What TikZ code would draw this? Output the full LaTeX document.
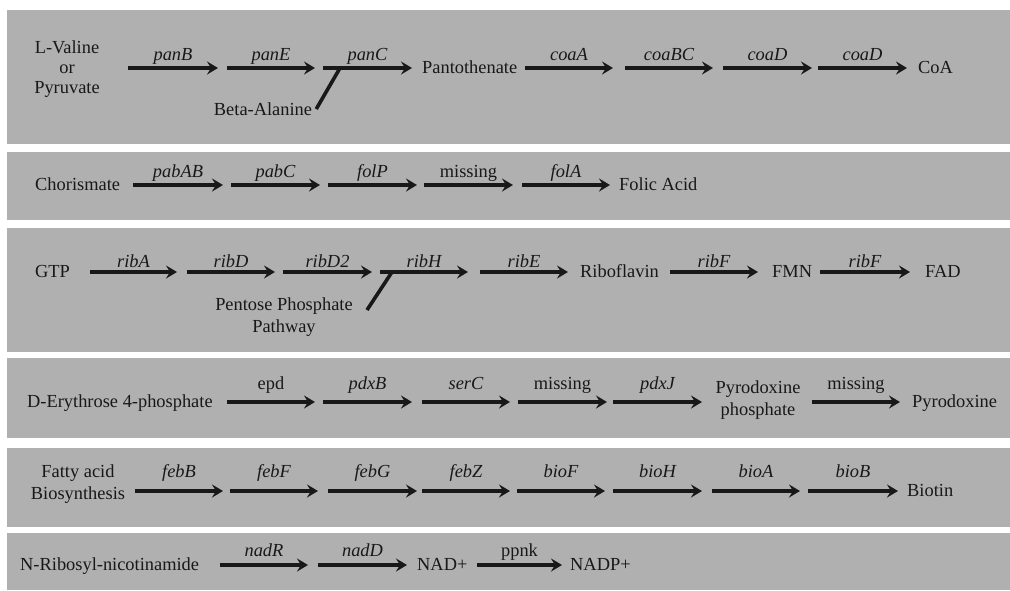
\documentclass[tikz,border=0pt]{standalone}
\usepackage{fontspec}
\setmainfont{Liberation Serif}
\usetikzlibrary{arrows.meta}
\definecolor{panelgray}{RGB}{176,176,176}
\definecolor{inkgray}{RGB}{24,24,24}
\newcommand{\pwfont}{\fontsize{18.4}{22}\selectfont}
\tikzset{
  panel/.style={fill=panelgray, draw=none},
  rxn/.style={line width=3.6pt, color=inkgray, -{Stealth[length=11pt,width=13pt,inset=4pt]}},
  branch/.style={line width=3.6pt, color=inkgray},
  cmp/.style={inner sep=0pt, anchor=base west, text=inkgray, font=\pwfont},
  multi/.style={inner sep=0pt, align=center, text=inkgray, font=\pwfont},
  gene/.style={midway, inner sep=0pt, anchor=base, yshift=#1, text=inkgray, font=\pwfont\itshape},
  gene/.default=8pt,
  enz/.style={midway, inner sep=0pt, anchor=base, yshift=#1, text=inkgray, font=\pwfont},
  enz/.default=8pt
}
\begin{document}
\begin{tikzpicture}[x=1pt,y=-1pt]
        \fill[white] (0,0) rectangle (1010,590);
        \useasboundingbox (0,0) rectangle (1010,590);
        \fill[panel] (7,10) rectangle (1010,144);
        \fill[panel] (7,152) rectangle (1010,220);
        \fill[panel] (7,228) rectangle (1010,352);
        \fill[panel] (7,358) rectangle (1010,438);
        \fill[panel] (7,448) rectangle (1010,527);
        \fill[panel] (7,533) rectangle (1010,590);

        % CoA
        \draw node[multi, font=\fontsize{18.4}{20}\selectfont] (val) at (67,69) {L-Valine\\or\\Pyruvate};
        \draw node[cmp] (pant) at (422,73) {Pantothenate};
        \draw node[cmp] (coa) at (918,73) {CoA};
        \draw node[multi, inner sep=4pt] (bala) at (263,109) {Beta-Alanine};
        \coordinate (a1) at (128,68); \coordinate (a2) at (218,68);
        \coordinate (a3) at (227,68); \coordinate (a4) at (315,68);
        \coordinate (a5) at (323,68); \coordinate (a6) at (412,68);
        \coordinate (a7) at (525,68); \coordinate (a8) at (613,68);
        \coordinate (a9) at (625,68); \coordinate (a10) at (713,68);
        \coordinate (a11) at (723,68); \coordinate (a12) at (812,68);
        \coordinate (a13) at (818,68); \coordinate (a14) at (907,68);
        \coordinate (aj) at (340,68);
        \draw (a1) edge[rxn] node[gene] {panB} (a2);
        \draw (a3) edge[rxn] node[gene] {panE} (a4);
        \draw (a5) edge[rxn] node[gene] {panC} (a6);
        \draw (a7) edge[rxn] node[gene] {coaA} (a8);
        \draw (a9) edge[rxn] node[gene] {coaBC} (a10);
        \draw (a11) edge[rxn] node[gene] {coaD} (a12);
        \draw (a13) edge[rxn] node[gene] {coaD} (a14);
        \draw[branch] (aj) -- (bala.east);

        % folic acid
        \draw node[cmp] (chor) at (35,190) {Chorismate};
        \draw node[cmp] (fol) at (619,190) {Folic Acid};
        \coordinate (b1) at (133,185); \coordinate (b2) at (223,185);
        \coordinate (b3) at (231,185); \coordinate (b4) at (320,185);
        \coordinate (b5) at (328,185); \coordinate (b6) at (417,185);
        \coordinate (b7) at (424,185); \coordinate (b8) at (513,185);
        \coordinate (b9) at (522,185); \coordinate (b10) at (610,185);
        \draw (b1) edge[rxn] node[gene] {pabAB} (b2);
        \draw (b3) edge[rxn] node[gene] {pabC} (b4);
        \draw (b5) edge[rxn] node[gene] {folP} (b6);
        \draw (b7) edge[rxn] node[enz] {missing} (b8);
        \draw (b9) edge[rxn] node[gene] {folA} (b10);

        % riboflavin
        \draw node[cmp] (gtp) at (35,277) {GTP};
        \draw node[cmp] (ribo) at (580,277) {Riboflavin};
        \draw node[cmp] (fmn) at (772,277) {FMN};
        \draw node[cmp] (fad) at (925,277) {FAD};
        \draw node[multi] (ppp) at (284,317) {Pentose Phosphate\\Pathway};
        \coordinate (c1) at (90,272); \coordinate (c2) at (177,272);
        \coordinate (c3) at (187,272); \coordinate (c4) at (275,272);
        \coordinate (c5) at (283,272); \coordinate (c6) at (372,272);
        \coordinate (c7) at (380,272); \coordinate (c8) at (468,272);
        \coordinate (c9) at (480,272); \coordinate (c10) at (568,272);
        \coordinate (c11) at (670,272); \coordinate (c12) at (758,272);
        \coordinate (c13) at (820,272); \coordinate (c14) at (910,272);
        \coordinate (cj) at (392,272); \coordinate (ck) at (367,310);
        \draw (c1) edge[rxn] node[gene=5pt] {ribA} (c2);
        \draw (c3) edge[rxn] node[gene=5pt] {ribD} (c4);
        \draw (c5) edge[rxn] node[gene=5pt] {ribD2} (c6);
        \draw (c7) edge[rxn] node[gene=5pt] {ribH} (c8);
        \draw (c9) edge[rxn] node[gene=5pt] {ribE} (c10);
        \draw (c11) edge[rxn] node[gene=5pt] {ribF} (c12);
        \draw (c13) edge[rxn] node[gene=5pt] {ribF} (c14);
        \draw[branch] (cj) -- (ck);

        % pyridoxine
        \draw node[cmp] (ery) at (27,407) {D-Erythrose 4-phosphate};
        \draw node[multi] (pyrp) at (758,400) {Pyrodoxine\\phosphate};
        \draw node[cmp] (pyr) at (912,407) {Pyrodoxine};
        \coordinate (d1) at (227,402); \coordinate (d2) at (315,402);
        \coordinate (d3) at (323,402); \coordinate (d4) at (412,402);
        \coordinate (d5) at (422,402); \coordinate (d6) at (510,402);
        \coordinate (d7) at (518,402); \coordinate (d8) at (607,402);
        \coordinate (d9) at (613,402); \coordinate (d10) at (702,402);
        \coordinate (d11) at (812,402); \coordinate (d12) at (900,402);
        \draw (d1) edge[rxn] node[enz=13pt] {epd} (d2);
        \draw (d3) edge[rxn] node[gene=13pt] {pdxB} (d4);
        \draw (d5) edge[rxn] node[gene=13pt] {serC} (d6);
        \draw (d7) edge[rxn] node[enz=13pt] {missing} (d8);
        \draw (d9) edge[rxn] node[gene=13pt] {pdxJ} (d10);
        \draw (d11) edge[rxn] node[enz=13pt] {missing} (d12);

        % biotin
        \draw node[multi] (fab) at (78,484) {Fatty acid\\Biosynthesis};
        \draw node[cmp] (bio) at (907,496) {Biotin};
        \coordinate (e1) at (135,491); \coordinate (e2) at (223,491);
        \coordinate (e3) at (230,491); \coordinate (e4) at (318,491);
        \coordinate (e5) at (328,491); \coordinate (e6) at (417,491);
        \coordinate (e7) at (422,491); \coordinate (e8) at (510,491);
        \coordinate (e9) at (517,491); \coordinate (e10) at (605,491);
        \coordinate (e11) at (613,491); \coordinate (e12) at (702,491);
        \coordinate (e13) at (712,491); \coordinate (e14) at (800,491);
        \coordinate (e15) at (808,491); \coordinate (e16) at (898,491);
        \draw (e1) edge[rxn] node[gene=14pt] {febB} (e2);
        \draw (e3) edge[rxn] node[gene=14pt] {febF} (e4);
        \draw (e5) edge[rxn] node[gene=14pt] {febG} (e6);
        \draw (e7) edge[rxn] node[gene=14pt] {febZ} (e8);
        \draw (e9) edge[rxn] node[gene=14pt] {bioF} (e10);
        \draw (e11) edge[rxn] node[gene=14pt] {bioH} (e12);
        \draw (e13) edge[rxn] node[gene=14pt] {bioA} (e14);
        \draw (e15) edge[rxn] node[gene=14pt] {bioB} (e16);

        % NAD
        \draw node[cmp] (nrn) at (20,570) {N-Ribosyl-nicotinamide};
        \draw node[cmp] (nad) at (417,570) {NAD+};
        \draw node[cmp] (nadp) at (570,570) {NADP+};
        \coordinate (f1) at (220,565); \coordinate (f2) at (308,565);
        \coordinate (f3) at (318,565); \coordinate (f4) at (407,565);
        \coordinate (f5) at (477,565); \coordinate (f6) at (562,565);
        \draw (f1) edge[rxn] node[gene=9pt] {nadR} (f2);
        \draw (f3) edge[rxn] node[gene=9pt] {nadD} (f4);
        \draw (f5) edge[rxn] node[enz=9pt] {ppnk} (f6);
\end{tikzpicture}
\end{document}
